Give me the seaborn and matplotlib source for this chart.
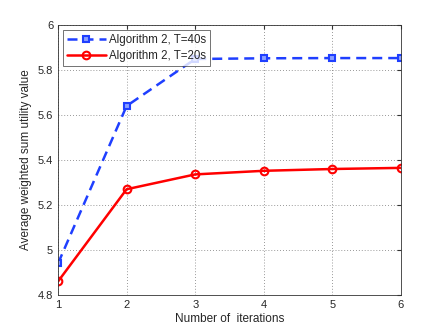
import matplotlib
matplotlib.use("Agg")
import matplotlib.pyplot as plt
import seaborn as sns
import pandas as pd

iterations = [1, 2, 3, 4, 5, 6]
t40_values = [4.94, 5.64, 5.849, 5.852, 5.853, 5.853]
t20_values = [4.86, 5.27, 5.336, 5.352, 5.360, 5.365]
series_names = ["Algorithm 2, T=40s", "Algorithm 2, T=20s"]
y_ticks = [4.8, 5.0, 5.2, 5.4, 5.6, 5.8, 6.0]
y_tick_labels = ["4.8", "5", "5.2", "5.4", "5.6", "5.8", "6"]

df = pd.DataFrame({
    "iter": iterations * 2,
    "value": t40_values + t20_values,
    "series": [series_names[0]] * 6 + [series_names[1]] * 6,
})

sns.set_style("white")
plt.rcParams["font.family"] = ["Liberation Sans", "DejaVu Sans"]

fig = plt.figure(figsize=(4.43, 3.33), dpi=100)
ax = fig.add_axes([58 / 443, 38 / 333, 343 / 443, 270 / 333])

styles = {
    series_names[0]: dict(color="#1f3fff", ls=(0, (4, 2.4)), marker="s", ms=4.5, mfc="#8aa0ff"),
    series_names[1]: dict(color="#ff0000", ls="-", marker="o", ms=5.5, mfc="none"),
}
for name in series_names:
    sub = df[df["series"] == name]
    st = styles[name]
    sns.lineplot(data=sub, x="iter", y="value", ax=ax, color=st["color"],
                 linestyle=st["ls"], marker=st["marker"], markersize=st["ms"],
                 markerfacecolor=st["mfc"], markeredgecolor=st["color"],
                 markeredgewidth=1.5, linewidth=1.8, label=name)

ax.set_xlim(1, 6)
ax.set_ylim(4.8, 6.0)
ax.set_xticks(iterations)
ax.set_yticks(y_ticks)
ax.set_yticklabels(y_tick_labels)
ax.grid(True, linestyle=(0, (1, 2.5)), color="#777777", linewidth=0.6)
ax.tick_params(direction="in", labelsize=8, length=3, top=True, right=True,
               color="#333333", labelcolor="#262626")
for s in ax.spines.values():
    s.set_color("#333333")
    s.set_linewidth(0.6)
ax.set_xlabel("Number of  iterations", fontsize=8.5, labelpad=2, color="#262626")
ax.set_ylabel("Average weighted sum utility value", fontsize=8.5, labelpad=4,
              color="#262626")

leg = ax.legend(loc="upper left", fontsize=8.3, frameon=True, fancybox=False,
                handlelength=3.4, borderaxespad=0.4, borderpad=0.35,
                labelspacing=0.35, handletextpad=0.3)
leg.get_frame().set_edgecolor("#333333")
leg.get_frame().set_linewidth(0.6)

fig.savefig("out.png", dpi=100)
